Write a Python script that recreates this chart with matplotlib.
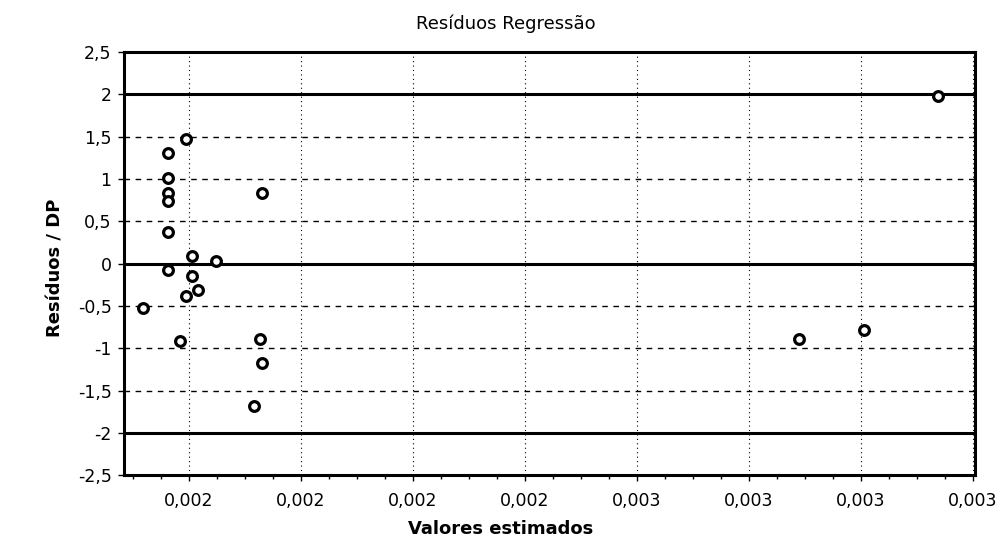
import numpy as np
import matplotlib
matplotlib.use("Agg")
import matplotlib.pyplot as plt
from matplotlib.ticker import FixedLocator, AutoMinorLocator, FuncFormatter

plt.rcParams['font.family'] = ['DejaVu Sans']

# valores estimados (x) e residuos padronizados (y)
valores_estimados = [0.001794, 0.001762, 0.001762, 0.001762, 0.001762, 0.001762,
                     0.001930, 0.001806, 0.001848, 0.001762, 0.001805, 0.001816,
                     0.001795, 0.001718, 0.001784, 0.001927, 0.001931, 0.001916,
                     0.002890, 0.003006, 0.003137]
residuos_dp = [1.47, 1.31, 1.01, 0.83, 0.745, 0.37,
               0.83, 0.09, 0.03, -0.08, -0.15, -0.31,
               -0.38, -0.52, -0.91, -0.89, -1.17, -1.68,
               -0.89, -0.78, 1.98]

x_ticks = [0.0018, 0.0020, 0.0022, 0.0024, 0.0026, 0.0028, 0.0030, 0.0032]
y_ticks = [-2.5, -2, -1.5, -1, -0.5, 0, 0.5, 1, 1.5, 2, 2.5]
limites = [-2, 0, 2]

fig = plt.figure(figsize=(10.02, 5.57), dpi=100)
ax = fig.add_axes([0.1238, 0.147, 0.849, 0.7596])

ax.set_xlim(0.001684, 0.003203)
ax.set_ylim(-2.5, 2.5)

# grade
for yv in y_ticks:
    if yv not in limites and abs(yv) != 2.5:
        ax.axhline(yv, color='black', lw=1.0, ls=(0, (4, 4)), zorder=1)
for xv in x_ticks:
    ax.axvline(xv, color='black', lw=0.8, ls=(0, (1, 3)), zorder=1)
for yv in limites:
    ax.axhline(yv, color='black', lw=2.2, zorder=2)

ax.plot(valores_estimados, residuos_dp, 'o', ms=7, mfc='white', mec='black',
        mew=2.3, zorder=3)

ax.xaxis.set_major_locator(FixedLocator(x_ticks))
ax.yaxis.set_major_locator(FixedLocator(y_ticks))
ax.xaxis.set_minor_locator(AutoMinorLocator(4))
ax.xaxis.set_major_formatter(FuncFormatter(lambda v, p: f"{v:.3f}".replace('.', ',')))
ax.yaxis.set_major_formatter(FuncFormatter(lambda v, p: f"{v:g}".replace('.', ',')))
ax.tick_params(axis='both', which='major', labelsize=12.5, length=4, width=1, direction='out')
ax.tick_params(axis='x', which='major', pad=8)
ax.tick_params(axis='y', which='major', pad=5)
ax.tick_params(axis='x', which='minor', length=3, width=1)

for s in ax.spines.values():
    s.set_linewidth(2.2)

fig.text(0.505, 0.957, 'Resíduos Regressão', ha='center', va='center', fontsize=13)
fig.text(0.5, 0.05, 'Valores estimados', ha='center', va='center', fontsize=13,
         fontweight='bold')
fig.text(0.055, 0.52, 'Resíduos / DP', ha='center', va='center', fontsize=13,
         fontweight='bold', rotation=90)

plt.savefig('out.png', dpi=100)
